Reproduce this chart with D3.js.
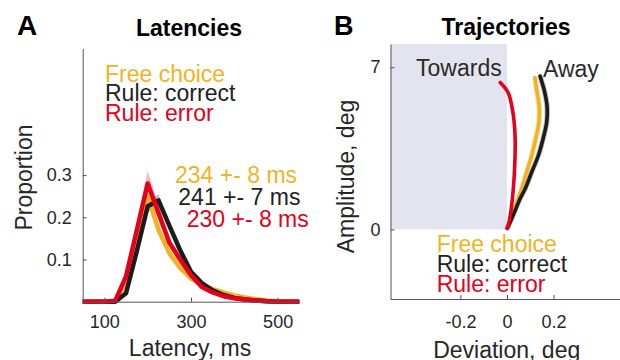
<!DOCTYPE html>
<html>
<head>
<meta charset="utf-8">
<script src="https://cdn.jsdelivr.net/npm/d3@7"></script>
<style>
  body { margin: 0; background: #fff; }
  svg { display: block; font-family: "Liberation Sans", Arial, sans-serif; }
</style>
</head>
<body>
<svg id="chart" width="620" height="360"></svg>
<script>
// panel A: latency histograms (proportion per 25 ms bin)
var latencyBins = [50, 75, 100, 125, 150, 175, 200, 225, 250, 275, 300, 325, 350, 375, 400, 425, 450, 475, 500, 525, 550];
var freeChoice   = [0, 0, 0, 0, 0.045, 0.16, 0.25, 0.17, 0.115, 0.08, 0.055, 0.04, 0.03, 0.022, 0.015, 0.01, 0.006, 0.003, 0.001, 0, 0];
var ruleCorrect  = [0, 0, 0, 0, 0.02, 0.12, 0.226, 0.24, 0.18, 0.122, 0.071, 0.044, 0.027, 0.016, 0.009, 0.005, 0.003, 0.001, 0, 0, 0];
var ruleError    = [0, 0, 0, 0.002, 0.06, 0.17, 0.28, 0.21, 0.14, 0.1, 0.063, 0.035, 0.022, 0.013, 0.008, 0.005, 0.003, 0.001, 0, 0, 0];
var freeSem      = [0, 0, 0, 0, 0.006, 0.012, 0.014, 0.012, 0.01, 0.008, 0.006, 0.005, 0.004, 0.003, 0.002, 0.002, 0.001, 0.001, 0, 0, 0];
var correctSem   = [0, 0, 0, 0, 0.004, 0.01, 0.014, 0.014, 0.01, 0.008, 0.006, 0.004, 0.003, 0.002, 0.002, 0.001, 0.001, 0, 0, 0, 0];
var errorSem     = [0, 0, 0, 0, 0.008, 0.016, 0.03, 0.018, 0.012, 0.01, 0.007, 0.005, 0.004, 0.003, 0.002, 0.001, 0.001, 0, 0, 0, 0];
var latencyTicks = [100, 300, 500];
var proportionTicks = [0.1, 0.2, 0.3];

var conditions = ["Free choice", "Rule: correct", "Rule: error"];
var meanLabels = ["234 +- 8 ms", "241 +- 7 ms", "230 +- 8 ms"];

// panel B: mean trajectories (amplitude vs deviation, deg)
var freeAmp     = [0.05, 0.76, 1.76, 2.5, 3.19, 4.0, 4.62, 5.3, 6.05, 6.55];
var freeDev     = [0.002, 0.027, 0.063, 0.085, 0.106, 0.125, 0.137, 0.138, 0.127, 0.12];
var correctAmp  = [0.05, 0.7, 1.3, 1.8, 2.5, 3.2, 4.0, 4.6, 5.3, 6.0, 6.35, 6.62];
var correctDev  = [0.002, 0.03, 0.055, 0.08, 0.107, 0.135, 0.157, 0.17, 0.172, 0.16, 0.15, 0.142];
var errorAmp    = [0.05, 0.2, 1.05, 2.5, 3.9, 4.7, 5.35, 5.7, 5.92, 6.15, 6.34];
var errorDev    = [0, 0.006, 0.02, 0.032, 0.035, 0.03, 0.02, 0.012, 0.004, -0.012, -0.029];
var trajSem     = [0.012, 0.012, 0.005];
var deviationTicks = [-0.2, 0, 0.2];
var amplitudeTicks = [0, 7];

var colors = ["#f1b324", "#1c1c1c", "#e5001c"];
var bandColors = ["#f5c95e", "#8a8a8a", "#eb7f8e"];
var textColors = ["#f1b324", "#222222", "#e5001c"];

var svg = d3.select("#chart");
var axisColor = "#555";
var fs = "23px";

function styleAxis(g) {
  g.select(".domain").attr("stroke", axisColor).attr("stroke-width", 1);
  g.selectAll(".tick line").attr("stroke", axisColor);
  g.selectAll(".tick text").attr("fill", "#262626").style("font-size", "18px").attr("font-family", null);
}

// matlab style labels: plain hyphen, no trailing zeros
function tickFmt(d) {
  return String(d);
}

// ---------- panel A ----------
var xA = d3.scaleLinear().domain([50, 550]).range([82.7, 299.3]);
var yA = d3.scaleLinear().domain([0, 0.6]).range([301.7, 48.5]);

var seriesA = [freeChoice, ruleCorrect, ruleError];
var semA = [freeSem, correctSem, errorSem];

var gA = svg.append("g");

seriesA.forEach(function (vals, i) {
  var pts = latencyBins.map(function (b, j) { return { x: b, y: vals[j], e: semA[i][j] }; });
  gA.append("path")
    .datum(pts)
    .attr("d", d3.area()
      .x(function (d) { return xA(d.x); })
      .y0(function (d) { return yA(Math.max(0, d.y - d.e)); })
      .y1(function (d) { return yA(d.y + d.e); }))
    .attr("fill", bandColors[i])
    .attr("opacity", 0.55);
});

seriesA.forEach(function (vals, i) {
  var pts = latencyBins.map(function (b, j) { return { x: b, y: vals[j] }; });
  gA.append("path")
    .datum(pts)
    .attr("d", d3.line().x(function (d) { return xA(d.x); }).y(function (d) { return yA(d.y); }))
    .attr("fill", "none")
    .attr("stroke", colors[i])
    .attr("stroke-width", 4.5)
    .attr("stroke-linejoin", "round");
});

var axA_x = svg.append("g")
  .attr("transform", "translate(0," + yA(0) + ")")
  .call(d3.axisBottom(xA).tickValues(latencyTicks).tickSize(-4).tickSizeOuter(0).tickPadding(14));
styleAxis(axA_x);

var axA_y = svg.append("g")
  .attr("transform", "translate(" + xA(50) + ",0)")
  .call(d3.axisLeft(yA).tickValues(proportionTicks).tickSize(-4).tickSizeOuter(0).tickPadding(11).tickFormat(tickFmt));
styleAxis(axA_y);

// legend + means
conditions.forEach(function (c, i) {
  svg.append("text").attr("x", 105).attr("y", 81.7 + i * 19.7)
    .attr("fill", textColors[i]).style("font-size", fs).text(c);
});
var meanX = [175, 178.3, 186.7];
meanLabels.forEach(function (m, i) {
  svg.append("text").attr("x", meanX[i]).attr("y", 182.7 + i * 22)
    .attr("fill", textColors[i]).style("font-size", fs).text(m);
});

svg.append("text").attr("x", 189).attr("y", 36).attr("text-anchor", "middle")
  .style("font-size", fs).style("font-weight", "bold").text("Latencies");
svg.append("text").attr("x", 17).attr("y", 35)
  .style("font-size", "28px").style("font-weight", "bold").text("A");
svg.append("text").attr("transform", "translate(32,177.5) rotate(-90)").attr("text-anchor", "middle")
  .attr("fill", "#262626").style("font-size", fs).text("Proportion");
svg.append("text").attr("x", 190).attr("y", 356).attr("text-anchor", "middle")
  .attr("fill", "#262626").style("font-size", fs).text("Latency, ms");

// ---------- panel B ----------
var xB = d3.scaleLinear().domain([-0.5, 0.5]).range([390.5, 623.5]);
var yB = d3.scaleLinear().domain([-3, 8]).range([299, 44]);

// "towards" region
svg.append("rect")
  .attr("x", xB(-0.5)).attr("y", yB(8))
  .attr("width", xB(0) - xB(-0.5)).attr("height", yB(0) - yB(8))
  .attr("fill", "#e4e4f0");

svg.append("text").attr("x", 501.7).attr("y", 76).attr("text-anchor", "end")
  .attr("fill", "#2a2a2a").style("font-size", fs).text("Towards");
svg.append("text").attr("x", 543).attr("y", 77)
  .attr("fill", "#2a2a2a").style("font-size", fs).text("Away");

var ampB = [freeAmp, correctAmp, errorAmp];
var devB = [freeDev, correctDev, errorDev];

ampB.forEach(function (amps, i) {
  var pts = amps.map(function (a, j) { return { a: a, d: devB[i][j] }; });
  svg.append("path")
    .datum(pts)
    .attr("d", d3.area().curve(d3.curveCatmullRom)
      .y(function (p) { return yB(p.a); })
      .x0(function (p) { return xB(p.d - trajSem[i]); })
      .x1(function (p) { return xB(p.d + trajSem[i]); }))
    .attr("fill", bandColors[i])
    .attr("opacity", 0.5);
});

ampB.forEach(function (amps, i) {
  var pts = amps.map(function (a, j) { return { a: a, d: devB[i][j] }; });
  svg.append("path")
    .datum(pts)
    .attr("d", d3.line().curve(d3.curveCatmullRom)
      .x(function (p) { return xB(p.d); })
      .y(function (p) { return yB(p.a); }))
    .attr("fill", "none")
    .attr("stroke", colors[i])
    .attr("stroke-width", 3.6)
    .attr("stroke-linecap", "round");
});

var axB_x = svg.append("g")
  .attr("transform", "translate(0," + yB(-3) + ")")
  .call(d3.axisBottom(xB).tickValues(deviationTicks).tickSize(-4).tickSizeOuter(0).tickPadding(16).tickFormat(tickFmt));
styleAxis(axB_x);

var axB_y = svg.append("g")
  .attr("transform", "translate(" + xB(-0.5) + ",0)")
  .call(d3.axisLeft(yB).tickValues(amplitudeTicks).tickSize(-4).tickSizeOuter(0).tickPadding(10));
styleAxis(axB_y);

conditions.forEach(function (c, i) {
  svg.append("text").attr("x", 436.7).attr("y", 251.7 + i * 20)
    .attr("fill", textColors[i]).style("font-size", fs).text(c);
});

svg.append("text").attr("x", 506).attr("y", 34.5).attr("text-anchor", "middle")
  .style("font-size", fs).style("font-weight", "bold").text("Trajectories");
svg.append("text").attr("x", 334).attr("y", 35)
  .style("font-size", "27px").style("font-weight", "bold").text("B");
svg.append("text").attr("transform", "translate(354,176.5) rotate(-90)").attr("text-anchor", "middle")
  .attr("fill", "#262626").style("font-size", fs).text("Amplitude, deg");
svg.append("text").attr("x", 506.7).attr("y", 357.7).attr("text-anchor", "middle")
  .attr("fill", "#262626").style("font-size", fs).text("Deviation, deg");
</script>
</body>
</html>
